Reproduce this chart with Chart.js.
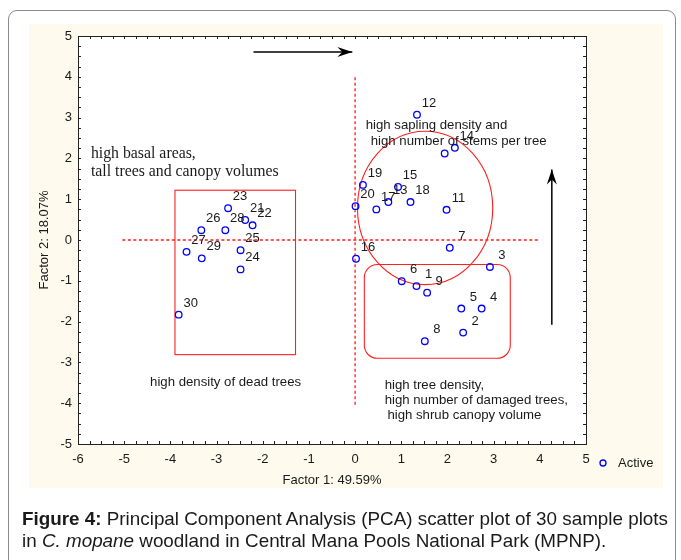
<!DOCTYPE html>
<html><head><meta charset="utf-8">
<script src="https://cdn.jsdelivr.net/npm/chart.js@4/dist/chart.umd.min.js"></script>
<style>
html,body{margin:0;padding:0;background:#fff;width:681px;height:560px;overflow:hidden;}
#frame{position:absolute;left:8px;top:10px;width:668px;height:570px;border:1px solid #8a8a8a;border-radius:9px;box-sizing:border-box;}
#panel{position:absolute;left:29px;top:24px;width:634px;height:464px;background:#fffaee;}
#c{position:absolute;left:0;top:0;}
#cap{position:absolute;left:22px;top:508px;font-family:"Liberation Sans",Arial,sans-serif;font-size:18.5px;line-height:22px;color:#1a1a1a;white-space:nowrap;transform-origin:0 0;}
</style></head>
<body>
<div id="frame"></div>
<div id="panel"></div>
<canvas id="c" width="681" height="560"></canvas>
<div id="cap"><span id="l1"><b>Figure 4:</b> Principal Component Analysis (PCA) scatter plot of 30 sample plots</span><br>in <i>C. mopane</i> woodland in Central Mana Pools National Park (MPNP).</div>
<script>
// ---- data (sample plot scores on the first two PCA factors) ----
const plotLabels = ["1","2","3","4","5","6","7","8","9","10","11","12","13","14","15","16","17","18","19","20","21","22","23","24","25","26","27","28","29","30"];
const factor1 = [1.33,2.34,2.92,2.74,2.30,1.01,2.05,1.51,1.56,1.94,1.98,1.34,0.72,2.16,0.93,0.02,0.46,1.20,0.17,0.01,-2.38,-2.22,-2.75,-2.48,-2.48,-3.33,-3.65,-2.81,-3.32,-3.82];
const factor2 = [-1.13,-2.27,-0.66,-1.68,-1.68,-1.01,-0.19,-2.48,-1.29,2.12,0.74,3.07,0.93,2.26,1.30,-0.46,0.75,0.93,1.35,0.83,0.49,0.36,0.78,-0.72,-0.25,0.24,-0.29,0.24,-0.45,-1.83];
const hiddenLabels = ["10"]; // label covered by annotation text in the original
const xTicks = [-6,-5,-4,-3,-2,-1,0,1,2,3,4,5];
const yTicks = [-5,-4,-3,-2,-1,0,1,2,3,4,5];
const seriesName = "Active";
const xTitle = "Factor 1: 49.59%";
const yTitle = "Factor 2: 18.07%";

// annotations (data coordinates)
const groupBoxLeft = {x1:-3.9, x2:-1.29, y1:1.22, y2:-2.81};
const groupBoxRight = {x1:0.2, x2:3.36, y1:-0.6, y2:-2.9};
const groupEllipse = {cx:1.516, cy:0.786, rx:1.464, ry:1.88};
const vLine = {x:0, y1:-4.04, y2:3.99};
const hLine = {y:0, x1:-5.04, x2:4.0};
const arrowH = {x1:-2.2, y1:4.61, x2:-0.06, y2:4.61};
const arrowV = {x1:4.26, y1:-2.08, x2:4.26, y2:1.73};
const notes = [
  {t:"high basal areas,", x:-5.72, y:2.10, serif:true},
  {t:"tall trees and canopy volumes", x:-5.72, y:1.68, serif:true},
  {t:"high sapling density and", x:0.23, y:2.81},
  {t:" high number of stems per tree", x:0.26, y:2.42},
  {t:"high density of dead trees", x:-4.44, y:-3.50},
  {t:"high tree density,", x:0.64, y:-3.57},
  {t:"high number of damaged trees,", x:0.64, y:-3.94},
  {t:"high shrub canopy volume", x:0.70, y:-4.31}
];

const SANS = '"Liberation Sans", Arial, sans-serif';
const SERIF = '"Liberation Serif", "Times New Roman", serif';

const points = factor1.map((v,i)=>({x:v, y:factor2[i]}));

function arrow(ctx, x1,y1,x2,y2){
  ctx.beginPath(); ctx.moveTo(x1,y1); ctx.lineTo(x2,y2); ctx.stroke();
  const a = Math.atan2(y2-y1,x2-x1), L=15, W=5, N=10;
  ctx.save(); ctx.translate(x2,y2); ctx.rotate(a);
  ctx.beginPath(); ctx.moveTo(0,0); ctx.lineTo(-L,-W); ctx.lineTo(-N,0); ctx.lineTo(-L,W); ctx.closePath(); ctx.fill();
  ctx.restore();
}

const decor = {
  id:'decor',
  beforeDatasetsDraw(chart){
    const {ctx, chartArea:ca, scales:{x,y}} = chart;
    ctx.save();
    ctx.fillStyle='#fff'; ctx.fillRect(ca.left,ca.top,ca.right-ca.left,ca.bottom-ca.top);
    ctx.strokeStyle='#ff1a1a'; ctx.lineWidth=1.3; ctx.setLineDash([3,2.5]);
    ctx.beginPath(); ctx.moveTo(x.getPixelForValue(vLine.x), y.getPixelForValue(vLine.y1)); ctx.lineTo(x.getPixelForValue(vLine.x), y.getPixelForValue(vLine.y2)); ctx.stroke();
    ctx.beginPath(); ctx.moveTo(x.getPixelForValue(hLine.x1), y.getPixelForValue(hLine.y)); ctx.lineTo(x.getPixelForValue(hLine.x2), y.getPixelForValue(hLine.y)); ctx.stroke();
    ctx.setLineDash([]); ctx.lineWidth=1.1; ctx.strokeStyle='#ff2020';
    let l=x.getPixelForValue(groupBoxLeft.x1), r=x.getPixelForValue(groupBoxLeft.x2), t=y.getPixelForValue(groupBoxLeft.y1), b=y.getPixelForValue(groupBoxLeft.y2);
    ctx.strokeRect(l,t,r-l,b-t);
    l=x.getPixelForValue(groupBoxRight.x1); r=x.getPixelForValue(groupBoxRight.x2); t=y.getPixelForValue(groupBoxRight.y1); b=y.getPixelForValue(groupBoxRight.y2);
    ctx.beginPath(); ctx.roundRect(l,t,r-l,b-t,13); ctx.stroke();
    const cx=x.getPixelForValue(groupEllipse.cx), cy=y.getPixelForValue(groupEllipse.cy);
    const rx=Math.abs(x.getPixelForValue(groupEllipse.cx+groupEllipse.rx)-cx), ry=Math.abs(y.getPixelForValue(groupEllipse.cy+groupEllipse.ry)-cy);
    ctx.beginPath(); ctx.ellipse(cx,cy,rx,ry,0,0,Math.PI*2); ctx.stroke();
    ctx.strokeStyle='#000'; ctx.fillStyle='#000'; ctx.lineWidth=1.5;
    arrow(ctx, x.getPixelForValue(arrowH.x1), y.getPixelForValue(arrowH.y1), x.getPixelForValue(arrowH.x2), y.getPixelForValue(arrowH.y2));
    arrow(ctx, x.getPixelForValue(arrowV.x1), y.getPixelForValue(arrowV.y1), x.getPixelForValue(arrowV.x2), y.getPixelForValue(arrowV.y2));
    ctx.restore();
  },
  afterDatasetsDraw(chart){
    const {ctx, chartArea:ca, scales:{x,y}} = chart;
    ctx.save();
    // point labels
    ctx.fillStyle='#1a1a1a'; ctx.font='13px '+SANS; ctx.textAlign='center'; ctx.textBaseline='middle';
    points.forEach((p,i)=>{
      if (hiddenLabels.includes(plotLabels[i])) return;
      ctx.fillText(plotLabels[i], x.getPixelForValue(p.x)+12, y.getPixelForValue(p.y)-11.5);
    });
    // notes
    ctx.textAlign='left';
    notes.forEach(n=>{
      ctx.font = n.serif ? '15.8px '+SERIF : '13.2px '+SANS;
      ctx.fillText(n.t, x.getPixelForValue(n.x), y.getPixelForValue(n.y));
    });
    // frame + minor ticks
    ctx.strokeStyle='#222'; ctx.lineWidth=1;
    ctx.strokeRect(Math.round(ca.left)+0.5, Math.round(ca.top)+0.5, Math.round(ca.right-ca.left), Math.round(ca.bottom-ca.top));
    ctx.beginPath();
    for (let v=x.min; v<=x.max+1e-9; v+=0.25){
      const px=Math.round(x.getPixelForValue(v))+0.5;
      ctx.moveTo(px,ca.bottom); ctx.lineTo(px,ca.bottom-3);
      ctx.moveTo(px,ca.top); ctx.lineTo(px,ca.top+3);
    }
    for (let v=y.min; v<=y.max+1e-9; v+=0.25){
      const py=Math.round(y.getPixelForValue(v))+0.5;
      ctx.moveTo(ca.left,py); ctx.lineTo(ca.left+3,py);
      ctx.moveTo(ca.right,py); ctx.lineTo(ca.right-3,py);
    }
    ctx.stroke();
    // legend
    ctx.strokeStyle='#0000ff'; ctx.lineWidth=1.3;
    ctx.beginPath(); ctx.arc(ca.right+17, y.getPixelForValue(y.min)+19, 3, 0, Math.PI*2); ctx.stroke();
    ctx.fillStyle='#1a1a1a'; ctx.font='13px '+SANS; ctx.textAlign='left'; ctx.textBaseline='middle';
    ctx.fillText(seriesName, ca.right+32, y.getPixelForValue(y.min)+19);
    ctx.restore();
  }
};

new Chart(document.getElementById('c'), {
  type:'scatter',
  data:{datasets:[{label:seriesName, data:points, pointStyle:'circle', pointRadius:3.3, pointHoverRadius:3.3, borderColor:'#0000ff', backgroundColor:'rgba(0,0,0,0)', borderWidth:1.3}]},
  options:{
    responsive:false, animation:false, events:[],
    layout:{padding:{left:33, top:36, right:95, bottom:68}},
    plugins:{legend:{display:false}, tooltip:{enabled:false}},
    scales:{
      x:{type:'linear', min:-6, max:5,
        afterBuildTicks:s=>{s.ticks = xTicks.map(v=>({value:v}));},
        afterFit:s=>{s.height=48;},
        grid:{display:false, drawTicks:false}, border:{display:false},
        ticks:{color:'#1a1a1a', font:{family:SANS, size:13}, padding:8, maxRotation:0, autoSkip:false},
        title:{display:true, text:xTitle, color:'#1a1a1a', font:{family:SANS, size:13}}
      },
      y:{type:'linear', min:-5, max:5,
        afterBuildTicks:s=>{s.ticks = yTicks.map(v=>({value:v}));},
        afterFit:s=>{s.width=45;},
        grid:{display:false, drawTicks:false}, border:{display:false},
        ticks:{color:'#1a1a1a', font:{family:SANS, size:13}, padding:6, autoSkip:false},
        title:{display:true, text:yTitle, color:'#1a1a1a', font:{family:SANS, size:13}}
      }
    }
  },
  plugins:[decor]
});
// fit caption width to reference
const w = document.getElementById('l1').getBoundingClientRect().width;
document.getElementById('cap').style.transform = 'scaleX(' + (646/w) + ')';
</script>
</body></html>
